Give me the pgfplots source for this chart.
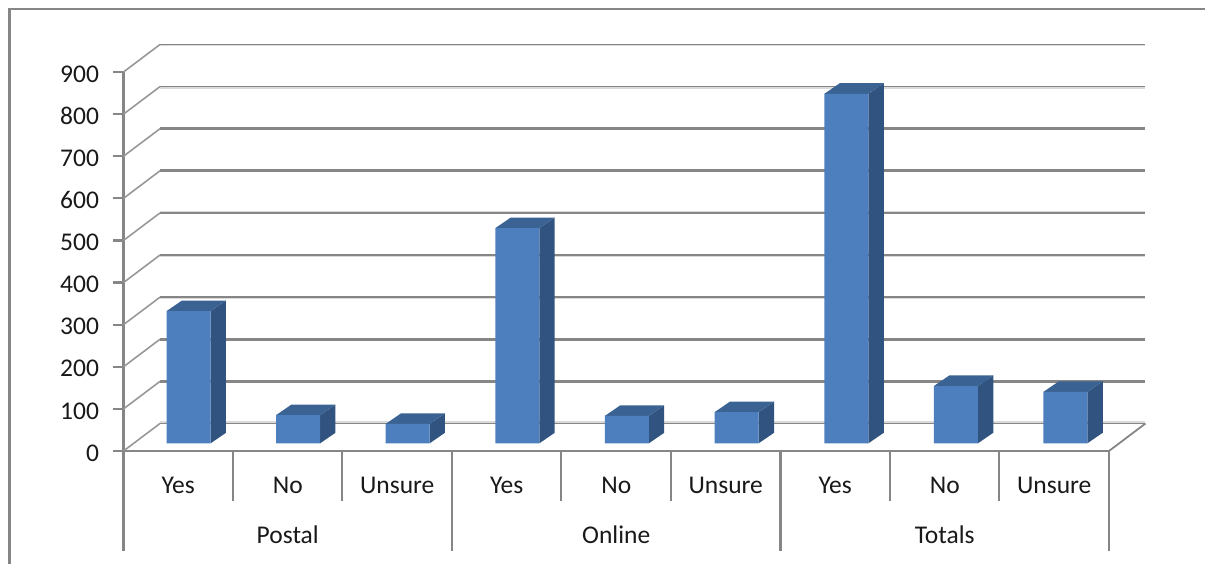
\documentclass[border=0pt]{standalone}
\usepackage{fontspec}
\setmainfont{Carlito}
\usepackage{pgfplots}
\pgfplotsset{compat=1.18}
\definecolor{barfront}{HTML}{4D7FBE}
\definecolor{barside}{HTML}{31537F}
\definecolor{bartop}{HTML}{3A6393}
\definecolor{linegrey}{HTML}{868686}
\definecolor{lightgrey}{HTML}{DADADA}

% value, line width, height of the pale edge beside the back line
\newcommand{\gridline}[3]{%
  \addplot[lightgrey,line width=2pt,forget plot] coordinates {(0.3333,{#1+#3})(9.3333,{#1+#3})};
  \addplot[linegrey!85,line width=1.6pt,forget plot] coordinates {(0,#1)(0.3333,{#1+65.3})};
  \addplot[linegrey,line width=#2,forget plot] coordinates {(0.3333,{#1+65.3})(9.3333,{#1+65.3})};
}
% side and top of a bar: bar centre, value
\newcommand{\barsides}[2]{%
  \addplot[fill=barside,draw=none,forget plot] coordinates {({#1+0.201},0)({#1+0.341},25)({#1+0.341},{#2+25})({#1+0.201},#2)} -- cycle;
  \addplot[fill=bartop,draw=none,forget plot] coordinates {({#1-0.201},#2)({#1-0.061},{#2+25})({#1+0.341},{#2+25})({#1+0.201},#2)} -- cycle;
}

\begin{document}
\begin{tikzpicture}[x=1pt,y=1pt]
\path[use as bounding box] (-123.5,-113) rectangle (1081.5,451);
% frame, walls and labels; 0 sits on the front edge of the floor
\begin{axis}[
  scale only axis, width=985.5pt, height=379pt,
  xmin=0, xmax=9, ymin=0, ymax=900,
  clip=false,
  axis x line*=bottom, axis y line*=left,
  axis line style={linegrey,line width=2.4pt},
  ytick={0,100,...,900},
  xtick={0.5,1.5,...,8.5},
  xticklabels={Yes,No,Unsure,Yes,No,Unsure,Yes,No,Unsure},
  extra x ticks={1.5,4.5,7.5},
  extra x tick labels={Postal,Online,Totals},
  extra x tick style={tick label style={yshift=-50pt}},
  tick align=outside,
  y tick style={linegrey,line width=2.2pt},
  x tick style={draw=none},
  major tick length=10pt,
  minor tick num=0,
  tick label style={font=\fontsize{25.5}{30}\selectfont,text=black!90},
  x tick label style={anchor=center,yshift=-24pt},
  y tick label style={xshift=-11pt,yshift=-2pt},
  /pgf/number format/assume math mode=true,
]
\gridline{900}{1.6pt}{63.5}
\gridline{800}{1.6pt}{63}
\gridline{700}{2.8pt}{65.3}
\gridline{600}{2.8pt}{65.3}
\gridline{500}{1.8pt}{68}
\gridline{400}{1.6pt}{63.5}
\gridline{300}{1.8pt}{63}
\gridline{200}{2.8pt}{65.3}
\gridline{100}{2.8pt}{65.3}
\gridline{0}{1.6pt}{69}
\addplot[linegrey,line width=1.8pt,forget plot] coordinates {(9,0)(9.3333,65.3)};
% category separators
\addplot[linegrey,line width=2.4pt,forget plot] coordinates {(0,0)(0,-238)};
\addplot[linegrey,line width=2.4pt,forget plot] coordinates {(3,0)(3,-238)};
\addplot[linegrey,line width=2.4pt,forget plot] coordinates {(6,0)(6,-238)};
\addplot[linegrey,line width=2.4pt,forget plot] coordinates {(9,0)(9,-238)};
\addplot[linegrey,line width=2pt,forget plot] coordinates {(1,0)(1,-119)};
\addplot[linegrey,line width=2pt,forget plot] coordinates {(2,0)(2,-119)};
\addplot[linegrey,line width=2pt,forget plot] coordinates {(4,0)(4,-119)};
\addplot[linegrey,line width=2pt,forget plot] coordinates {(5,0)(5,-119)};
\addplot[linegrey,line width=2pt,forget plot] coordinates {(7,0)(7,-119)};
\addplot[linegrey,line width=2pt,forget plot] coordinates {(8,0)(8,-119)};
% outer frame
\addplot[linegrey,line width=2.2pt,forget plot] coordinates {(-1.042,-268.3)(-1.042,1050)(9.8767,1050)};
\end{axis}
% bars: same scale, their base lifted to the middle of the floor
\begin{axis}[
  scale only axis, width=985.5pt, height=379pt,
  xmin=0, xmax=9, ymin=-18.3, ymax=881.7,
  hide axis, clip=false,
]
\barsides{0.595}{314}
\barsides{1.595}{67}
\barsides{2.595}{46}
\barsides{3.597}{511}
\barsides{4.597}{65}
\barsides{5.6}{74}
\barsides{6.602}{830}
\barsides{7.602}{136}
\barsides{8.602}{122}
\addplot[ybar,bar shift=0pt,bar width=0.402,fill=barfront,draw=none] coordinates {
  (0.595,314) (1.595,67) (2.595,46)
  (3.597,511) (4.597,65) (5.6,74)
  (6.602,830) (7.602,136) (8.602,122)};
\end{axis}
\end{tikzpicture}
\end{document}
